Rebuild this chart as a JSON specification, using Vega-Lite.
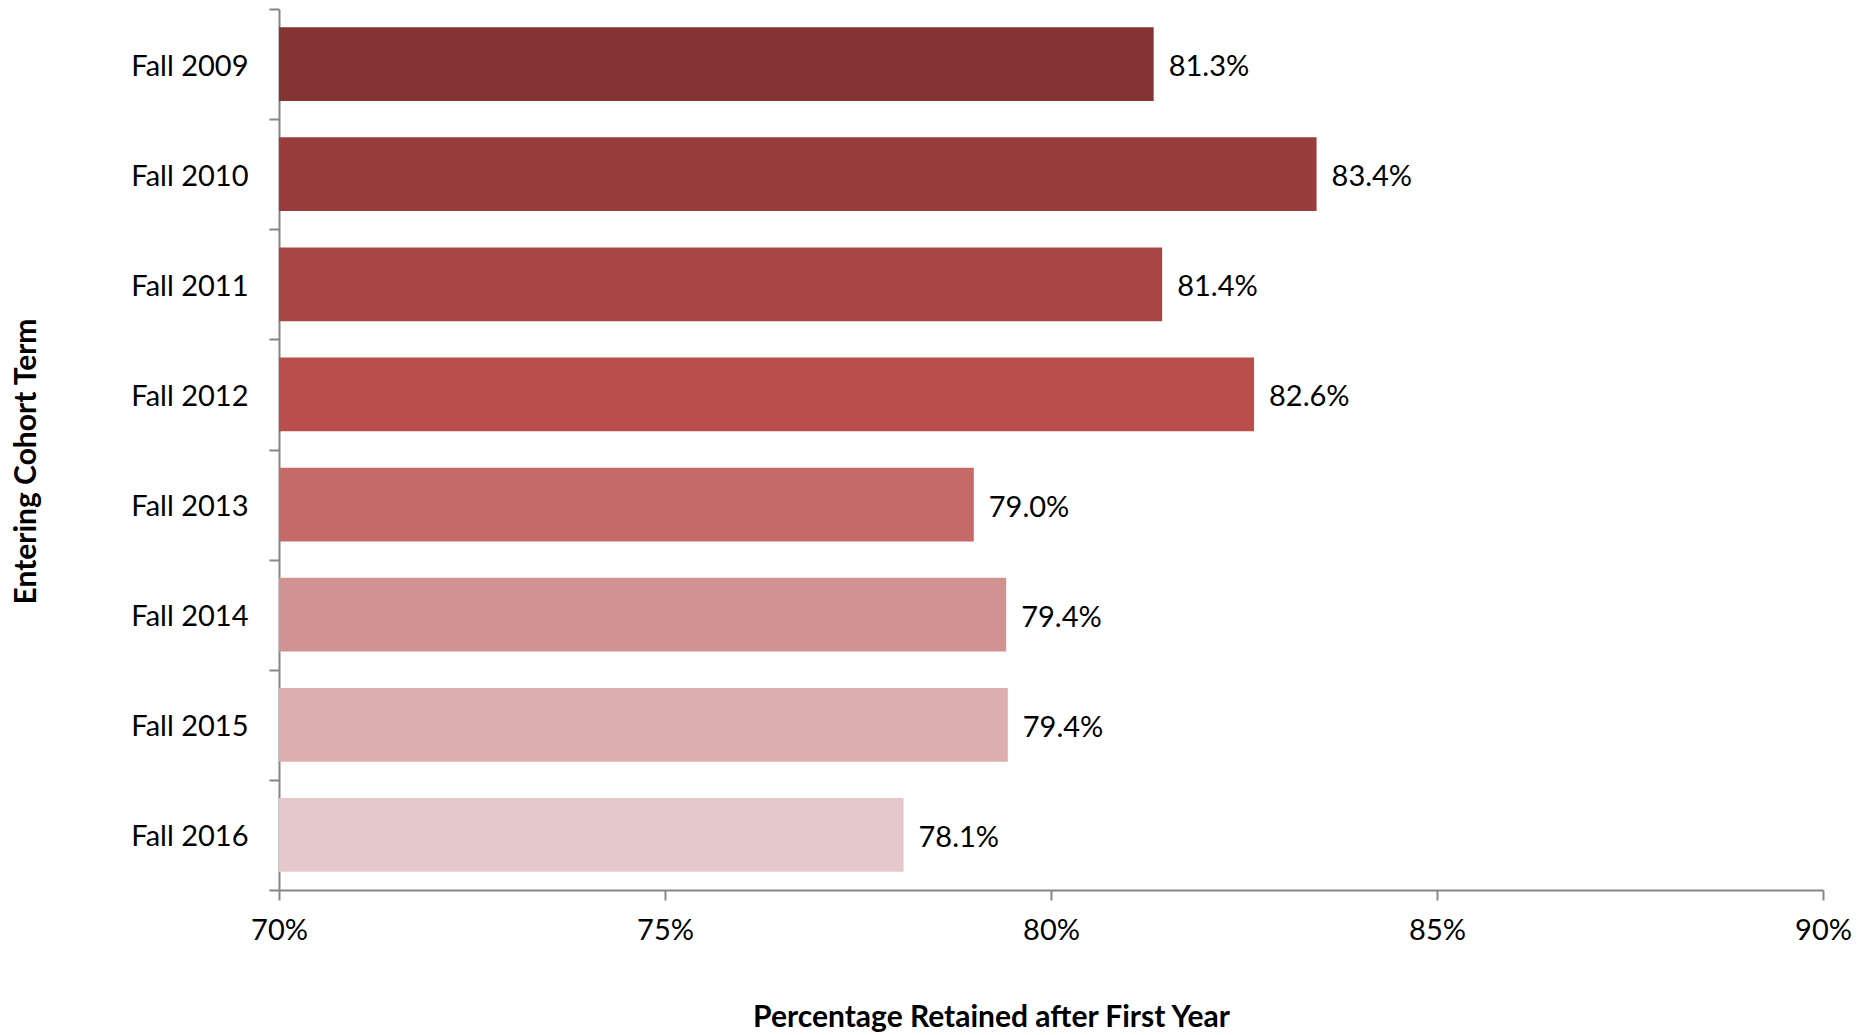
{
  "$schema": "https://vega.github.io/schema/vega-lite/v6.json",
  "width": 1544,
  "height": 881,
  "autosize": "none",
  "padding": {"left": 279, "top": 9, "right": 44, "bottom": 145},
  "background": "white",
  "config": {
    "view": {"stroke": null},
    "font": "Lato",
    "axis": {
      "domainColor": "#868686",
      "domainWidth": 2,
      "tickColor": "#868686",
      "tickWidth": 2,
      "tickSize": 10,
      "grid": false,
      "labelFont": "Lato",
      "labelFontSize": 29,
      "labelColor": "#000000",
      "titleFont": "Lato",
      "titleFontSize": 30,
      "titleFontWeight": "bold",
      "titleColor": "#000000"
    }
  },
  "data": {
    "values": [
      {"term": "Fall 2009", "rate": 0.8133},
      {"term": "Fall 2010", "rate": 0.8344},
      {"term": "Fall 2011", "rate": 0.8144},
      {"term": "Fall 2012", "rate": 0.8263},
      {"term": "Fall 2013", "rate": 0.7900},
      {"term": "Fall 2014", "rate": 0.7942},
      {"term": "Fall 2015", "rate": 0.7944},
      {"term": "Fall 2016", "rate": 0.7809}
    ]
  },
  "encoding": {
    "y": {
      "field": "term",
      "type": "nominal",
      "sort": null,
      "scale": {"paddingInner": 0, "paddingOuter": 0},
      "axis": {
        "title": "Entering Cohort Term",
        "tickBand": "extent",
        "labelPadding": 21,
        "labelOffset": 2,
        "titleAngle": -90,
        "titleX": -253,
        "titleY": 452,
        "titleAlign": "center",
        "titleBaseline": "middle"
      }
    },
    "x": {
      "field": "rate",
      "type": "quantitative",
      "scale": {"domain": [0.7, 0.9], "zero": false, "clamp": false},
      "axis": {
        "title": "Percentage Retained after First Year",
        "values": [0.7, 0.75, 0.8, 0.85, 0.9],
        "format": ".0%",
        "labelPadding": 16,
        "labelFlush": false,
        "titleX": 712,
        "titleY": 127,
        "titleAlign": "center",
        "titleBaseline": "middle"
      }
    }
  },
  "layer": [
    {
      "mark": {"type": "bar", "clip": true, "height": {"band": 0.67}},
      "encoding": {
        "color": {
          "field": "term",
          "type": "nominal",
          "legend": null,
          "scale": {
            "domain": ["Fall 2009", "Fall 2010", "Fall 2011", "Fall 2012", "Fall 2013", "Fall 2014", "Fall 2015", "Fall 2016"],
            "range": ["#843432", "#983D3B", "#A84644", "#B94E4B", "#C46A69", "#D19292", "#DCAEAF", "#E5C8C9"]
          }
        }
      }
    },
    {
      "mark": {"type": "text", "align": "left", "baseline": "middle", "dx": 15, "dy": 3, "fontSize": 29, "font": "Lato", "color": "#000000"},
      "encoding": {
        "text": {"field": "rate", "type": "quantitative", "format": ".1%"}
      }
    }
  ]
}
